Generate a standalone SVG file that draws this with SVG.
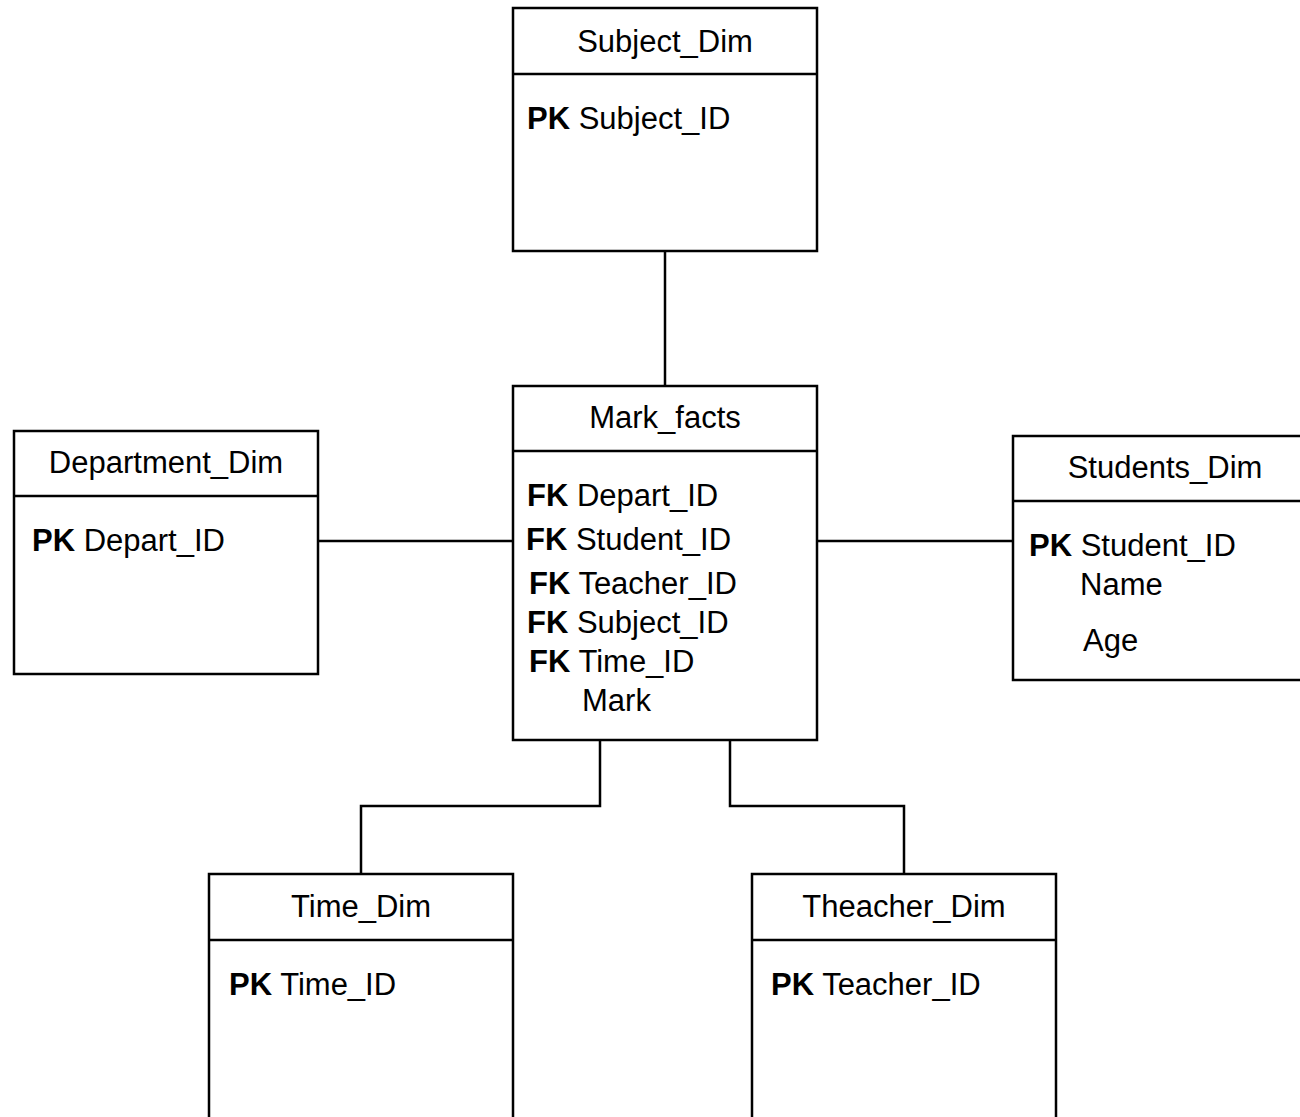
<svg xmlns="http://www.w3.org/2000/svg" width="1300" height="1117" viewBox="0 0 1300 1117">
<style>
.box{fill:#fff;stroke:#000;stroke-width:2.5}
.sep{stroke:#000;stroke-width:2.5}
.con{fill:none;stroke:#000;stroke-width:2.5}
text{font-family:"Liberation Sans",Arial,sans-serif;font-size:31px;fill:#000}
.t{text-anchor:middle}
.b{font-weight:bold}
</style>
<rect width="1300" height="1117" fill="#fff"/>
<g id="connectors">
<line class="con" x1="665" y1="251" x2="665" y2="386"/>
<line class="con" x1="318" y1="541" x2="513" y2="541"/>
<line class="con" x1="817" y1="541" x2="1013" y2="541"/>
<polyline class="con" points="600,740 600,806 361,806 361,874"/>
<polyline class="con" points="730,740 730,806 904,806 904,874"/>
</g>
<g id="subject_dim">
<rect class="box" x="513" y="8" width="304" height="243"/>
<line class="sep" x1="513" y1="74" x2="817" y2="74"/>
<text class="t" x="665" y="52">Subject_Dim</text>
<text x="527" y="129"><tspan class="b">PK</tspan> Subject_ID</text>
</g>
<g id="mark_facts">
<rect class="box" x="513" y="386" width="304" height="354"/>
<line class="sep" x1="513" y1="451" x2="817" y2="451"/>
<text class="t" x="665" y="428">Mark_facts</text>
<text x="527" y="506"><tspan class="b">FK</tspan> Depart_ID</text>
<text x="526" y="550"><tspan class="b">FK</tspan> Student_ID</text>
<text x="529" y="594"><tspan class="b">FK</tspan> Teacher_ID</text>
<text x="527" y="633"><tspan class="b">FK</tspan> Subject_ID</text>
<text x="529" y="672"><tspan class="b">FK</tspan> Time_ID</text>
<text x="582" y="711">Mark</text>
</g>
<g id="department_dim">
<rect class="box" x="14" y="431" width="304" height="243"/>
<line class="sep" x1="14" y1="496" x2="318" y2="496"/>
<text class="t" x="166" y="473">Department_Dim</text>
<text x="32" y="551"><tspan class="b">PK</tspan> Depart_ID</text>
</g>
<g id="students_dim">
<rect class="box" x="1013" y="436" width="304" height="244"/>
<line class="sep" x1="1013" y1="501" x2="1317" y2="501"/>
<text class="t" x="1165" y="478">Students_Dim</text>
<text x="1029" y="556"><tspan class="b">PK</tspan> Student_ID</text>
<text x="1080" y="595">Name</text>
<text x="1083" y="651">Age</text>
</g>
<g id="time_dim">
<rect class="box" x="209" y="874" width="304" height="260"/>
<line class="sep" x1="209" y1="940" x2="513" y2="940"/>
<text class="t" x="361" y="917">Time_Dim</text>
<text x="229" y="995"><tspan class="b">PK</tspan> Time_ID</text>
</g>
<g id="teacher_dim">
<rect class="box" x="752" y="874" width="304" height="260"/>
<line class="sep" x1="752" y1="940" x2="1056" y2="940"/>
<text class="t" x="904" y="917">Theacher_Dim</text>
<text x="771" y="995"><tspan class="b">PK</tspan> Teacher_ID</text>
</g>
</svg>
